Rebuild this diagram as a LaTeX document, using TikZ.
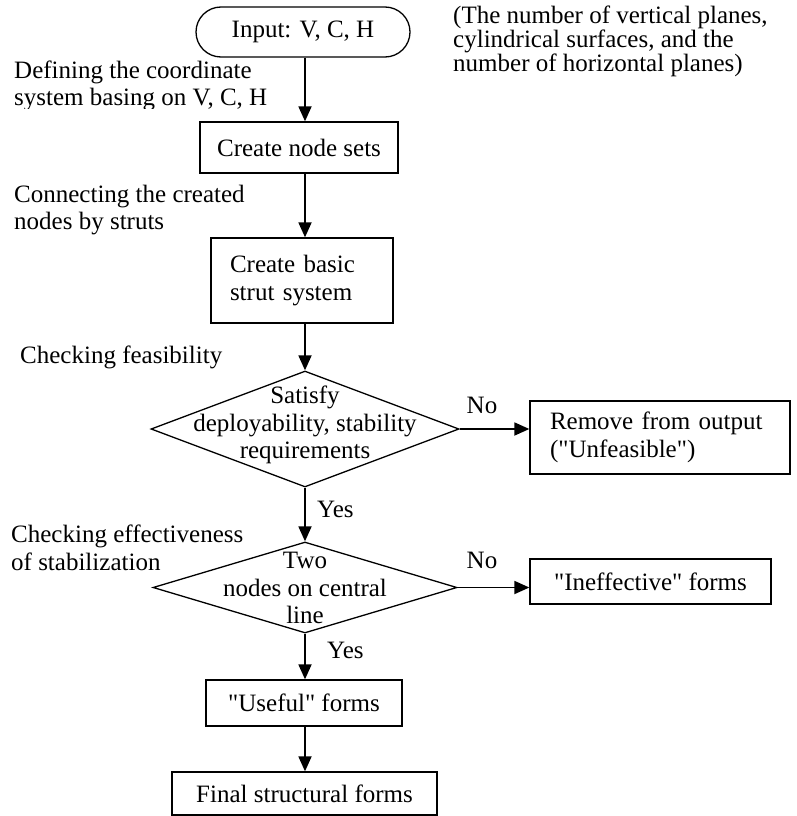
\documentclass[tikz,border=0pt]{standalone}
\usepackage{fontspec}
\setmainfont{Liberation Serif}[Ligatures=TeXOff]
\usetikzlibrary{shapes.geometric,shapes.misc,arrows.meta}

\begin{document}
\begin{tikzpicture}[x=1pt,y=-1pt,
  every node/.style={font=\fontsize{25}{27.5}\selectfont},
  box/.style={draw, line width=1.3pt, inner sep=0pt, align=center},
  term/.style={draw, rounded rectangle, line width=1.3pt, inner sep=0pt},
  decision/.style={draw, diamond, line width=1.3pt, inner sep=0pt},
  lbl/.style={align=left, anchor=west, inner sep=0pt},
  flow/.style={line width=1.8pt, -{Triangle[length=15pt,width=13pt]}},
]
\useasboundingbox (0,0) rectangle (796,816);

% main flow axis
\coordinate (axis) at (305,0);

% start terminal and its explanation
\node[term, minimum width=214pt, minimum height=50pt] (in) at (303,32) {Input: V, C, H};
\node[lbl, font=\fontsize{25}{24}\selectfont] (note) at (453,41)
  {(The number of vertical planes,\\cylindrical surfaces, and the\\number of horizontal planes)};

% step descriptions on the left
\begin{scope}
  \clip (0,55) rectangle (300,108);
  \node[lbl] (defl) at (14,86) {Defining the coordinate\\system basing on V, C, H};
\end{scope}
\node[lbl] (conl) at (14,210) {Connecting the created\\nodes by struts};
\node[lbl] (feas) at (20,357) {Checking feasibility};
\node[lbl] (effl) at (11,548) {Checking effectiveness\\of stabilization};

% process boxes
\node[box, minimum width=198pt, minimum height=51pt] (b1) at (299,147.5) {Create node sets};
\node[box, minimum height=85pt, text width=144pt, align=left, inner xsep=19pt] (b2) at (302,280.5)
  {Create basic\\strut system};

% first decision
\node[decision, minimum width=308pt, minimum height=116pt] (d1) at (305,429) {};
\node[align=center, inner sep=0pt] (d1t) at (305,425) {Satisfy\\deployability, stability\\requirements};
\node[box, minimum height=73pt, text width=220pt, align=left, inner xsep=20pt] (rem) at (660,437.5)
  {Remove from output\\("Unfeasible")};

% second decision
\node[decision, minimum width=304pt, minimum height=91pt] (d2) at (305,587.5) {};
\node[align=center, inner sep=0pt] (d2t) at (305,588) {Two\\nodes on central\\line};
\node[box, minimum width=241pt, minimum height=45pt] (ine) at (650.5,581.5) {"Ineffective" forms};

% results
\node[box, minimum width=196pt, minimum height=46pt] (use) at (304,703) {"Useful" forms};
\node[box, minimum width=265pt, minimum height=43pt] (fin) at (304.5,793.5) {Final structural forms};

% branch labels
\node[anchor=west, inner sep=0pt] (y1) at (317,509) {Yes};
\node[anchor=west, inner sep=0pt] (y2) at (327,650) {Yes};
\node (n1) at (482,405) {No};
\node (n2) at (482,560) {No};

% connectors
\draw[flow] (axis |- in.south) -- (axis |- b1.north);
\draw[flow] (axis |- b1.south) -- (axis |- b2.north);
\draw[flow] (axis |- b2.south) -- (d1.north);
\draw[flow] (d1.south) -- (d2.north);
\draw[flow] (d2.south) -- (axis |- use.north);
\draw[flow] (axis |- use.south) -- (axis |- fin.north);
\draw[flow] (d1.east) -- (d1.east -| rem.west);
\draw[flow] (d2.east) -- (d2.east -| ine.west);
\end{tikzpicture}
\end{document}
